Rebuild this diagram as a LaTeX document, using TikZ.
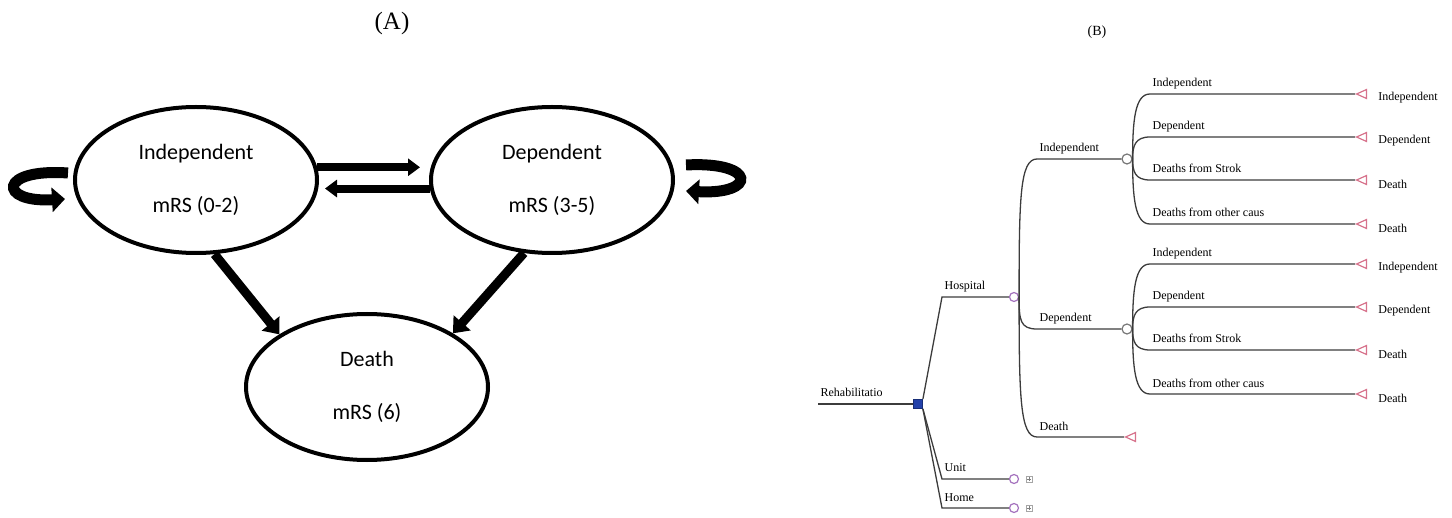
\documentclass[tikz,border=0pt]{standalone}
\usepackage{fontspec}
\setmainfont{Liberation Serif}
\newfontfamily\carlito{Carlito}
\usetikzlibrary{arrows.meta,shapes.geometric,calc}

\definecolor{treeline}{RGB}{60,60,60}
\definecolor{termred}{RGB}{215,115,140}
\definecolor{chancepurple}{RGB}{165,115,190}
\definecolor{chancegray}{RGB}{120,120,120}
\definecolor{decblue}{RGB}{35,65,170}

\tikzset{
  state/.style={ellipse, draw, line width=2pt, minimum width=121pt, minimum height=73pt,
    align=center, font=\carlito\fontsize{11}{26.5}\selectfont},
  fatarrow/.style={line width=4pt, -{Triangle[length=6pt,width=8.5pt]}},
  diagarrow/.style={line width=4.5pt, -{Triangle[length=7pt,width=11pt]}},
  selfloop/.style={line width=5.5pt, -{Triangle[length=6.5pt,width=12pt]}},
  branch/.style={draw=treeline, line width=0.65pt},
  lbl/.style={anchor=base west, inner sep=0pt, xshift=1pt, yshift=3.5pt, font=\fontsize{6}{7}\selectfont},
  termlbl/.style={anchor=west, inner sep=0pt, font=\fontsize{6}{7}\selectfont},
  decnode/.style={rectangle, draw=decblue!70!black, fill=decblue, minimum size=4.5pt, inner sep=0pt},
  chanceA/.style={circle, draw=chancepurple, fill=white, line width=0.6pt, minimum size=4.5pt, inner sep=0pt},
  chanceB/.style={circle, draw=chancegray, fill=white, line width=0.6pt, minimum size=5pt, inner sep=0pt},
  term/.style={isosceles triangle, isosceles triangle stretches, shape border rotate=180,
    draw=termred, line width=0.6pt, minimum width=4.5pt, minimum height=5pt, inner sep=0pt},
  plusbox/.style={rectangle, draw=gray!70, line width=0.4pt, minimum size=3pt, inner sep=0pt,
    path picture={\draw[gray, line width=0.3pt]
      ([xshift=-0.8pt]path picture bounding box.center) -- ([xshift=0.8pt]path picture bounding box.center)
      ([yshift=-0.8pt]path picture bounding box.center) -- ([yshift=0.8pt]path picture bounding box.center);}},
}

\begin{document}
\begin{tikzpicture}[x=0.5pt, y=-0.5pt]
\useasboundingbox (0,0) rectangle (1452,518);

% (A) Markov states
\node[font=\fontsize{12.5}{14}\selectfont] (titleA) at (392,23) {(A)};
\node[state] (indep) at (196,180) {Independent\\mRS (0-2)};
\node[state] (dep) at (552,180) {Dependent\\mRS (3-5)};
\node[state] (death) at (367,387) {Death\\mRS (6)};

\draw[fatarrow, shorten >=4.5pt] (indep.6) -- (indep.6 -| dep.west);
\draw[fatarrow, shorten >=3pt] (dep.184) -- (dep.184 -| indep.east);
\draw[diagarrow] (indep.-76) -- (death.149);
\draw[diagarrow] (dep.-111) -- (death.32);

% self loops
\coordinate (loopLa) at (68,173);
\coordinate (loopLb) at (65,199);
\draw[selfloop] (loopLa) .. controls (-2,168) and (-2,203) .. (loopLb);
\coordinate (loopRa) at (686,165);
\coordinate (loopRb) at (686,191);
\draw[selfloop] (loopRa) .. controls (757,161) and (757,195) .. (loopRb);

% (B) decision tree
\node[font=\fontsize{7}{8}\selectfont] (titleB) at (1097,32) {(B)};

\coordinate (root) at (818,404);
\node[decnode] (dec) at (918,404) {};
\draw[branch] (root) node[lbl]{Rehabilitatio} -- (dec.west);

\coordinate (hospc) at (942,297);
\node[chanceA] (hosp) at (1014,297) {};
\draw[branch] (dec.north east) -- (hospc) node[lbl]{Hospital} -- (hosp.west);

\coordinate (unitc) at (942,479);
\node[chanceA] (unit) at (1014,479) {};
\node[plusbox] (unitbox) at (1029,479) {};
\draw[branch] (dec.south east) -- (unitc) node[lbl]{Unit} -- (unit.west);

\coordinate (homec) at (942,508);
\node[chanceA] (home) at (1014,508) {};
\node[plusbox] (homebox) at (1029,508) {};
\draw[branch] (dec.south east) -- (homec) node[lbl]{Home} -- (home.west);

% hospital outcomes
\coordinate (hindc) at (1037,159);
\node[chanceB] (ind1) at (1127,159) {};
\draw[branch] (hosp.east) .. controls +(0,-100) and +(-17,0) .. (hindc) node[lbl]{Independent} -- (ind1.west);

\coordinate (hdepc) at (1037,329);
\node[chanceB] (dep1) at (1127,329) {};
\draw[branch] (hosp.east) .. controls +(0,23) and +(-17,0) .. (hdepc) node[lbl]{Dependent} -- (dep1.west);

\coordinate (hdthc) at (1037,437);
\node[term, anchor=apex] (hdth) at (1124,437) {};
\draw[branch] (hosp.east) .. controls +(0,100) and +(-17,0) .. (hdthc) node[lbl]{Death} -- (hdth.apex);

% next cycle
\foreach \p/\q in {ind1/i, dep1/d} {
  \foreach \dy/\br/\tl [count=\k] in {-65/Independent/Independent, -22/Dependent/Dependent,
      21/Deaths from Strok/Death, 65/Deaths from other caus/Death} {
    \coordinate (\q c\k) at ($(\p)+(23,\dy)$);
    \node[term, anchor=apex] (\q t\k) at ($(\p)+(228,\dy)$) {};
    \draw[branch] (\p.east) .. controls +(0,0.6*\dy) and +(-15,0) .. (\q c\k) node[lbl]{\br} -- (\q t\k.apex);
    \node[termlbl] (\q l\k) at ($(\p)+(251,\dy+4)$) {\tl};
  }
}

\end{tikzpicture}
\end{document}
